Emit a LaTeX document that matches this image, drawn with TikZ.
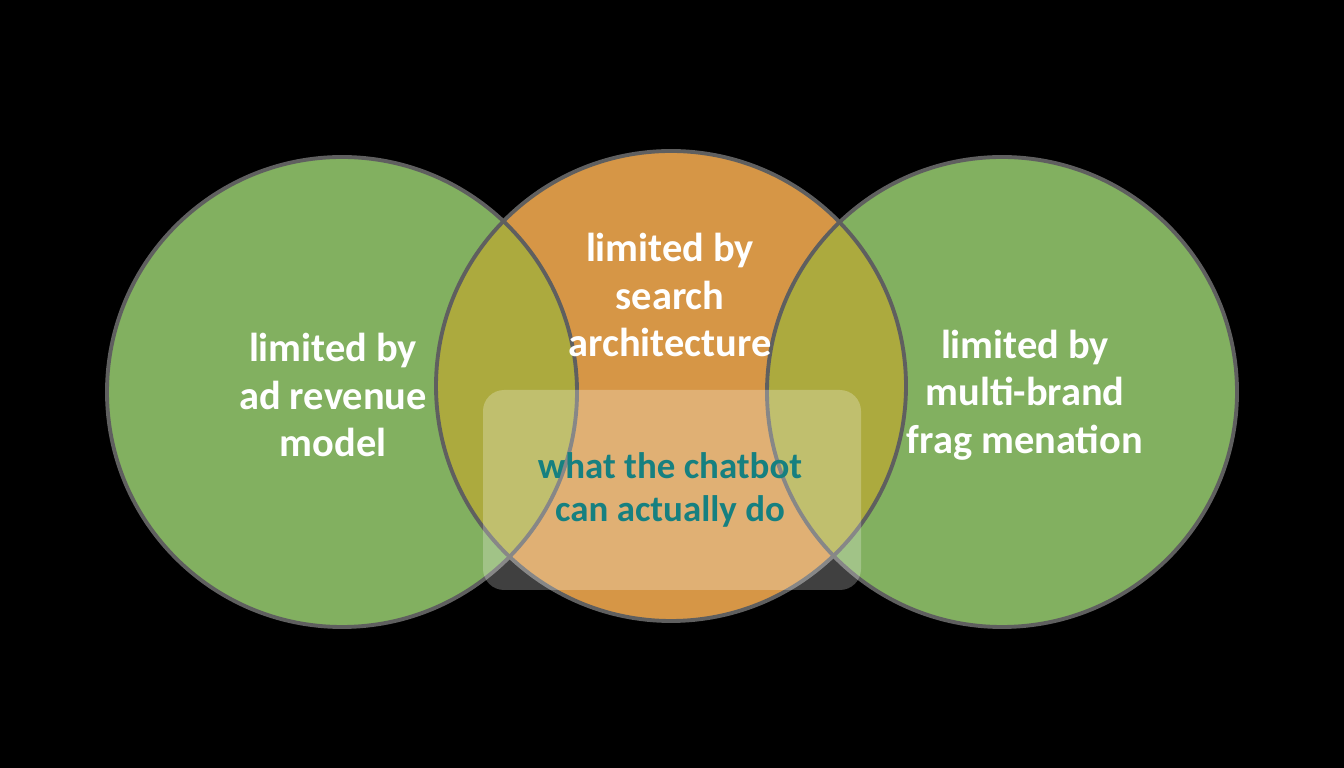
\documentclass[tikz,border=0pt]{standalone}
\usepackage{fontspec}
\setmainfont{Carlito}
\begin{document}
\begin{tikzpicture}

    % Colors for the circles
    \definecolor{leafgreen}{RGB}{130,176,96}
    \definecolor{amber}{RGB}{214,150,70}
    \definecolor{olive}{RGB}{172,170,62}
    \definecolor{rimgray}{RGB}{95,95,95}
    \definecolor{tealtext}{RGB}{22,128,128}

    \tikzset{
        label/.style={text=white, font=\bfseries\fontsize{23}{27}\selectfont, align=center},
        rim/.style={draw=rimgray, line width=2.2pt}
    }

    % Background
    \fill[black] (0,0) rectangle (26.88,15.36);
    \useasboundingbox (0,0) rectangle (26.88,15.36);

    % Circle fills
    \fill[leafgreen] (6.84,7.52) circle (4.7cm);
    \fill[leafgreen] (20.04,7.52) circle (4.7cm);
    \fill[amber] (13.42,7.64) circle (4.7cm);

    % Overlaps
    \begin{scope}
        \clip (13.42,7.64) circle (4.7cm);
        \fill[olive] (6.84,7.52) circle (4.7cm);
        \fill[olive] (20.04,7.52) circle (4.7cm);
    \end{scope}

    % Circle rims
    \draw[rim] (6.84,7.52) circle (4.7cm);
    \draw[rim] (13.42,7.64) circle (4.7cm);
    \draw[rim] (20.04,7.52) circle (4.7cm);

    % Center box
    \fill[white, fill opacity=0.25, rounded corners=12pt] (9.66,3.56) rectangle (17.22,7.56);

    % Labels
    \node[label] (adrev) at (6.66,7.46) {limited by\\ad revenue\\model};
    \node[label] (search) at (13.4,9.46) {limited by\\search\\architecture};
    \node[label] (brand) at (20.5,7.46) {limited by\\multi-brand\\frag menation};
    \node[label, text=tealtext, font=\bfseries\fontsize{21}{24}\selectfont] (chatbot) at (13.4,5.56) {what the chatbot\\can actually do};

\end{tikzpicture}
\end{document}
